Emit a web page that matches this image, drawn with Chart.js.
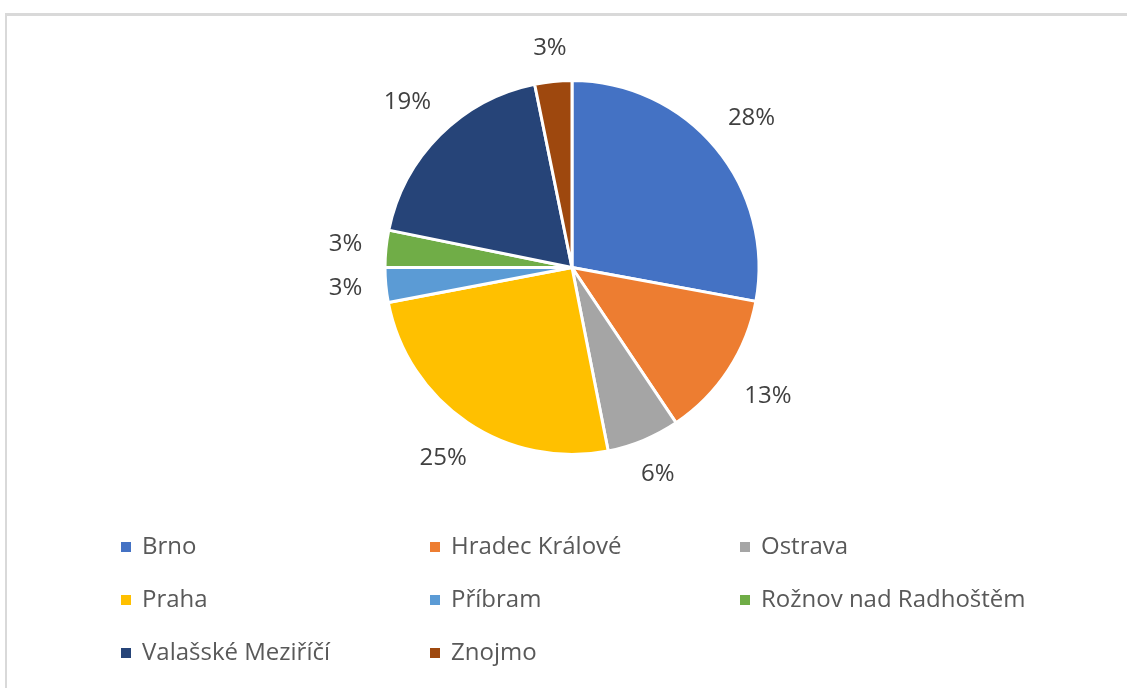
<!DOCTYPE html>
<html>
<head>
<meta charset="utf-8">
<script src="https://cdn.jsdelivr.net/npm/chart.js@4/dist/chart.umd.min.js"></script>
<style>
  html, body { margin: 0; padding: 0; background: #ffffff; }
  #wrap { position: relative; width: 1127px; height: 688px; overflow: hidden; }
  #frame { position: absolute; left: 5px; top: 13px; width: 1200px; height: 800px;
           border-top: 3px solid #d9d9d9; border-left: 2px solid #d9d9d9; box-sizing: border-box; }
  #c { position: absolute; left: 0; top: 0; }
</style>
</head>
<body>
<div id="wrap">
  <div id="frame"></div>
  <canvas id="c" width="1127" height="688"></canvas>
</div>
<script>
const categories = ["Brno", "Hradec Králové", "Ostrava", "Praha", "Příbram", "Rožnov nad Radhoštěm", "Valašské Meziříčí", "Znojmo"];
const values = [27.9, 12.7, 6.3, 25.1, 3.0, 3.2, 18.6, 3.2];
const percentLabels = ["28%", "13%", "6%", "25%", "3%", "3%", "19%", "3%"];
const colors = ["#4472C4", "#ED7D31", "#A5A5A5", "#FFC000", "#5B9BD5", "#70AD47", "#264478", "#9E480E"];

const FONT = '"Open Sans", "Segoe UI", sans-serif';

const outsideLabels = {
  id: 'outsideLabels',
  afterDatasetsDraw(chart) {
    const ctx = chart.ctx;
    const meta = chart.getDatasetMeta(0);
    ctx.save();
    ctx.font = '24px ' + FONT;
    ctx.fillStyle = '#404040';
    ctx.textAlign = 'center';
    ctx.textBaseline = 'alphabetic';
    const digitH = 17;
    const gap = 23;
    meta.data.forEach((arc, i) => {
      const p = arc.getProps(['x', 'y', 'startAngle', 'endAngle', 'outerRadius'], true);
      const mid = (p.startAngle + p.endAngle) / 2;
      const ux = Math.cos(mid), uy = Math.sin(mid);
      const txt = percentLabels[i];
      const w = ctx.measureText(txt).width;
      const d = p.outerRadius + gap + Math.abs(ux) * w / 2 + Math.abs(uy) * digitH / 2;
      const cx = p.x + ux * d, cy = p.y + uy * d;
      ctx.fillText(txt, cx, cy + digitH / 2 - 2);
    });
    ctx.restore();
  }
};

const gridLegend = {
  id: 'gridLegend',
  afterDraw(chart) {
    const ctx = chart.ctx;
    const colX = [121, 430, 740];
    const rowY = [547, 600, 653];
    ctx.save();
    ctx.font = '24px ' + FONT;
    ctx.textAlign = 'left';
    ctx.textBaseline = 'middle';
    categories.forEach((name, i) => {
      const col = i % 3, row = Math.floor(i / 3);
      const x = colX[col], y = rowY[row];
      ctx.fillStyle = colors[i];
      ctx.fillRect(x, y - 5, 10, 10);
      ctx.fillStyle = '#595959';
      ctx.fillText(name, x + 21, y);
    });
    ctx.restore();
  }
};

new Chart(document.getElementById('c'), {
  type: 'pie',
  data: {
    labels: categories,
    datasets: [{
      data: values,
      backgroundColor: colors,
      borderColor: '#ffffff',
      borderWidth: 3
    }]
  },
  options: {
    responsive: false,
    animation: false,
    layout: { padding: { top: 79, bottom: 232, left: 383, right: 366 } },
    plugins: {
      legend: { display: false },
      tooltip: { enabled: false }
    }
  },
  plugins: [outsideLabels, gridLegend]
});
</script>
</body>
</html>
